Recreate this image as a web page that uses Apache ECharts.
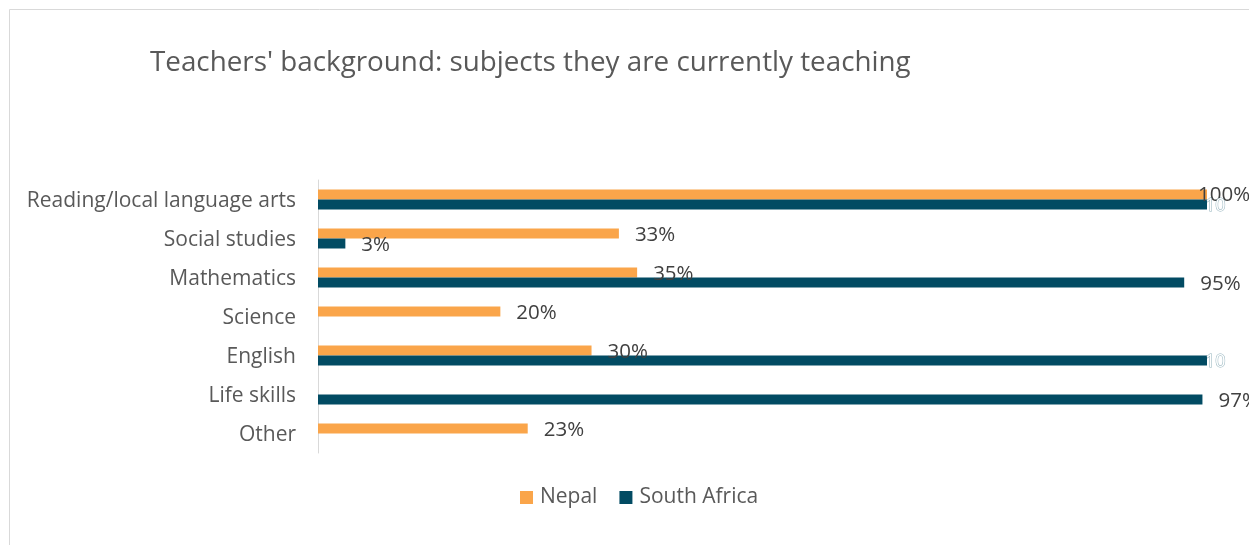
<!DOCTYPE html>
<html>
<head>
<meta charset="utf-8">
<script src="https://cdn.jsdelivr.net/npm/echarts@6/dist/echarts.min.js"></script>
<style>
  html, body { margin: 0; padding: 0; background: #fff; }
  #chart { width: 1249px; height: 545px; }
</style>
</head>
<body>
<div id="chart"></div>
<script>
// Subjects taught, listed top to bottom
const subjects = [
  'Reading/local language arts',
  'Social studies',
  'Mathematics',
  'Science',
  'English',
  'Life skills',
  'Other'
];
// Share of teachers (%) per subject; null = not asked in that country
const nepal = [100, 33, 35, 20, 30, null, 23];
const southAfrica = [100, 3, 95, null, 100, 97, null];
const seriesNames = ['Nepal', 'South Africa'];

const FONT = '"Open Sans", "Noto Sans", sans-serif';
const TEXT = '#595959';
const ORANGE = '#FAA54A';
const TEAL = '#024B63';
const AXIS_MAX = 97.5;

const pct = v => v + '%';

// Bars that run past the axis end get their label tucked against the edge
function nepalItems() {
  return nepal.map(v => {
    if (v === null) return '-';
    if (v > AXIS_MAX) {
      return {
        value: v,
        label: { position: ['100%', '50%'], offset: [-9, 1], align: 'left', verticalAlign: 'middle' }
      };
    }
    return v;
  });
}
function saItems() {
  return southAfrica.map(v => {
    if (v === null) return '-';
    if (v > AXIS_MAX) {
      return {
        value: v,
        label: {
          position: ['100%', '50%'], offset: [-2, 1], align: 'left', verticalAlign: 'middle',
          color: '#ffffff', fontSize: 18, width: 28, overflow: 'truncate', ellipsis: '',
          textBorderColor: 'rgba(2,75,99,0.45)', textBorderWidth: 1
        }
      };
    }
    return v;
  });
}

const barLabel = {
  show: true, position: 'right', distance: 16, offset: [0, 2],
  formatter: p => pct(p.value),
  fontFamily: FONT, fontSize: 20.5, color: '#404040'
};

const chart = echarts.init(document.getElementById('chart'), null, { renderer: 'canvas' });
chart.setOption({
  animation: false,
  backgroundColor: '#ffffff',
  title: {
    text: "Teachers' background: subjects they are currently teaching",
    left: 145,
    top: 44,
    textStyle: { fontFamily: FONT, fontSize: 27.8, fontWeight: 'normal', color: TEXT }
  },
  graphic: [{
    type: 'rect',
    shape: { x: 9.5, y: 9.5, width: 1400, height: 700 },
    style: { fill: 'none', stroke: '#d9d9d9', lineWidth: 1 },
    silent: true
  }],
  legend: {
    left: 515,
    top: 482,
    itemWidth: 13,
    itemHeight: 13,
    itemGap: 22,
    icon: 'rect',
    textStyle: { fontFamily: FONT, fontSize: 21, color: TEXT, padding: [0, 0, 0, 2] },
    data: seriesNames
  },
  grid: { left: 318, top: 180, width: 889, height: 273 },
  xAxis: {
    type: 'value',
    min: 0,
    max: AXIS_MAX,
    show: false
  },
  yAxis: {
    type: 'category',
    inverse: true,
    data: subjects,
    axisLine: { show: true, lineStyle: { color: '#d9d9d9', width: 1 } },
    axisTick: { show: false },
    axisLabel: {
      margin: 22,
      formatter: v => '{c|' + v + '}',
      rich: { c: { fontFamily: FONT, fontSize: 21, color: TEXT, padding: [4, 0, 0, 0] } }
    }
  },
  series: [
    {
      name: seriesNames[0],
      type: 'bar',
      data: nepalItems(),
      barWidth: 10,
      barGap: '0%',
      itemStyle: { color: ORANGE },
      label: barLabel
    },
    {
      name: seriesNames[1],
      type: 'bar',
      data: saItems(),
      barWidth: 10,
      barGap: '0%',
      itemStyle: { color: TEAL },
      label: barLabel
    }
  ]
});
</script>
</body>
</html>
